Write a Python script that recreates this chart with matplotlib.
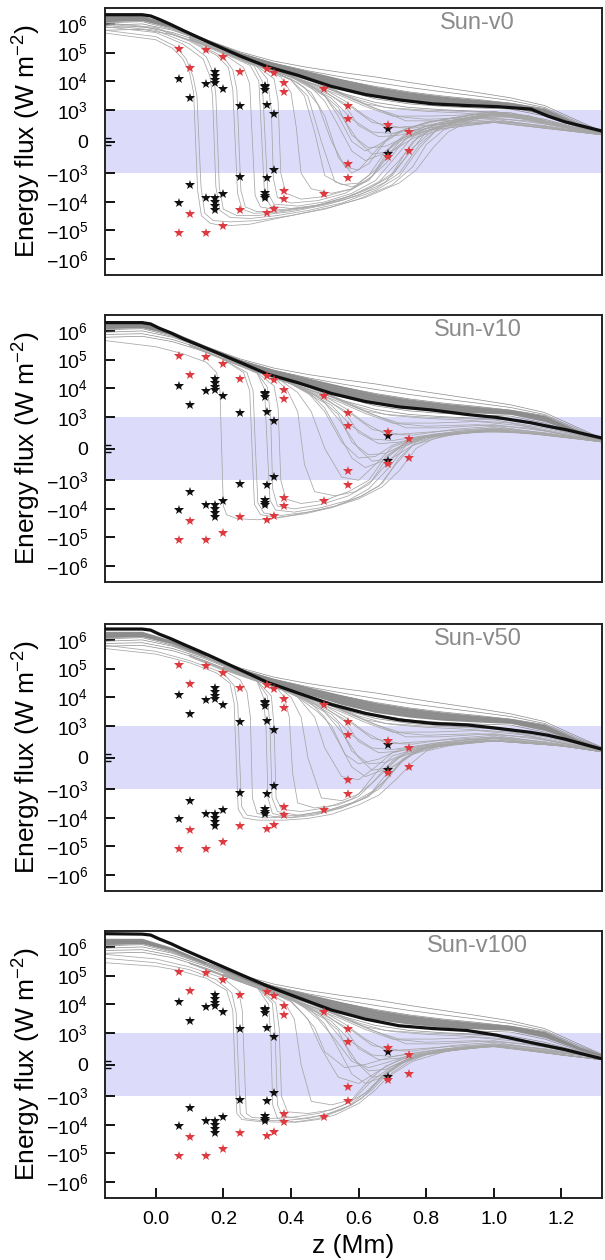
# -*- coding: utf-8 -*-
"""
Energy flux vs height for four solar models (Sun-v0 ... Sun-v100),
symlog y axis, gray individual runs, black mean, star markers for reference points.
"""
import matplotlib.pyplot as plt

plt.rcParams['font.family'] = ['Liberation Sans', 'DejaVu Sans']
plt.rcParams['mathtext.fontset'] = 'custom'
plt.rcParams['mathtext.rm'] = 'Liberation Sans'
plt.rcParams['mathtext.it'] = 'Liberation Sans:italic'
plt.rcParams['axes.unicode_minus'] = True

# ---------------------------------------------------------------- data
panel_names = ['Sun-v0', 'Sun-v10', 'Sun-v50', 'Sun-v100']

# thick black (mean) curve of each panel
mean_z = [-0.15, -0.04, -0.015, 0.01, 0.045, 0.08, 0.16, 0.25, 0.33, 0.42,
          0.52, 0.62, 0.72, 0.82, 0.92, 1.01, 1.11, 1.16, 1.21, 1.32]
v0_mean = [2.1e6, 2.1e6, 1.9e6, 1.45e6, 9.5e5, 6e5, 2.2e5, 7.5e4, 3.2e4, 1.6e4,
           6.5e3, 3.4e3, 2.2e3, 1.6e3, 1.4e3, 1.28e3, 1.05e3, 800, 620, 330]
v10_mean = [1.95e6, 1.95e6, 1.75e6, 1.25e6, 8.5e5, 5.4e5, 2.2e5, 7.9e4, 3.1e4, 1.55e4,
            6.5e3, 3.4e3, 2.2e3, 1.7e3, 1.2e3, 975, 810, 700, 600, 330]
v50_mean = [2.4e6, 2.4e6, 2.2e6, 1.6e6, 1.1e6, 7.2e5, 2.8e5, 9e4, 3.3e4, 1.4e4,
            5.5e3, 2.7e3, 1.6e3, 1.2e3, 1.07e3, 920, 790, 700, 580, 260]
v100_mean = [2.9e6, 2.8e6, 2.6e6, 1.9e6, 1.3e6, 8.3e5, 3.2e5, 1.1e5, 4.3e4, 1.7e4,
             6.2e3, 3e3, 1.75e3, 1.4e3, 1.2e3, 920, 690, 580, 470, 180]

# runs that stay positive (dense bundle around the mean), same in every panel
bundle_z = [-0.15, -0.04, 0.05, 0.15, 0.25, 0.35, 0.45, 0.55, 0.65, 0.75, 0.85,
            0.95, 1.05, 1.15, 1.25, 1.32]
bundle_top = [2e6, 2e6, 9.5e5, 3e5, 1e5, 4.5e4, 2.3e4, 1.2e4, 6.5e3, 4.2e3, 3e3,
              2.3e3, 1.8e3, 1.1e3, 560, 300]
bundle_bottom = [1.2e6, 1.3e6, 7.5e5, 2.5e5, 7.5e4, 2.8e4, 1.25e4, 5.5e3, 2.9e3,
                 2e3, 1.55e3, 1.35e3, 1.2e3, 850, 480, 260]
bundle_runs = [
    [1.7e6, 1.75e6, 8.5e5, 2.8e5, 1.05e5, 5e4, 3e4, 2e4, 1.4e4, 9e3, 6e3, 4e3, 2.6e3, 1.4e3, 650, 320],
    [1.5e6, 1.6e6, 8e5, 2.7e5, 9.5e4, 4.2e4, 2.3e4, 1.4e4, 9e3, 6e3, 4.2e3, 3e3, 2.1e3, 1.2e3, 600, 300],
    [1.4e6, 1.5e6, 7.5e5, 2.6e5, 9e4, 3.8e4, 1.9e4, 1.1e4, 6.5e3, 4.2e3, 3e3, 2.3e3, 1.7e3, 1.1e3, 560, 280],
    [1.25e6, 1.35e6, 7e5, 2.5e5, 8.5e4, 3.4e4, 1.6e4, 8.5e3, 5e3, 3.3e3, 2.4e3, 1.9e3, 1.5e3, 1e3, 530, 270],
    [1.1e6, 1.2e6, 6.5e5, 2.4e5, 8e4, 3.1e4, 1.45e4, 7e3, 4e3, 2.7e3, 2e3, 1.7e3, 1.4e3, 950, 500, 260],
    [9e5, 1e6, 6e5, 2.3e5, 7.5e4, 2.9e4, 1.3e4, 6e3, 3.2e3, 2.2e3, 1.7e3, 1.5e3, 1.3e3, 900, 480, 250],
    [7.5e5, 8e5, 5e5, 2.1e5, 7e4, 2.6e4, 1.1e4, 5e3, 2.4e3, 1.6e3, 1.3e3, 1.15e3, 1.05e3, 800, 450, 240],
    [6e5, 6.5e5, 4.2e5, 1.8e5, 6e4, 2.2e4, 9e3, 3.8e3, 1.8e3, 1.2e3, 1e3, 950, 900, 700, 420, 230],
]

# runs that leave the bundle late and wander inside the shaded band (all panels)
fan_runs = [
    [(0.2, 1e5), (0.35, 2.5e4), (0.45, 8e3), (0.52, 3e3), (0.58, 1.2e3), (0.64, 600), (0.72, 450), (0.85, 550), (1.0, 650), (1.15, 500), (1.32, 220)],
    [(0.2, 1e5), (0.35, 2.6e4), (0.45, 9e3), (0.55, 3e3), (0.62, 1.3e3), (0.7, 800), (0.8, 700), (0.95, 750), (1.1, 650), (1.32, 230)],
    [(0.2, 1.05e5), (0.35, 2.7e4), (0.48, 7e3), (0.56, 2e3), (0.62, 800), (0.68, 450), (0.76, 420), (0.88, 600), (1.0, 700), (1.32, 220)],
    [(0.2, 1.05e5), (0.4, 1.6e4), (0.5, 4.5e3), (0.56, 1.4e3), (0.6, 500), (0.66, 150), (0.72, 200), (0.82, 450), (1.0, 650), (1.32, 220)],
    [(0.2, 1e5), (0.4, 1.5e4), (0.48, 5e3), (0.54, 1.2e3), (0.58, 200), (0.63, -200), (0.68, -150), (0.74, 150), (0.84, 450), (1.0, 620), (1.32, 210)],
    [(0.2, 1.1e5), (0.45, 1.2e4), (0.55, 3.5e3), (0.62, 1.6e3), (0.7, 1.1e3), (0.8, 950), (0.9, 900), (1.05, 800), (1.2, 450), (1.32, 230)],
    [(0.2, 1.1e5), (0.45, 1.1e4), (0.56, 3e3), (0.64, 1.2e3), (0.72, 800), (0.82, 800), (0.95, 850), (1.1, 700), (1.32, 240)],
    [(0.2, 1.1e5), (0.5, 7e3), (0.6, 2.2e3), (0.68, 1.2e3), (0.78, 1e3), (0.9, 950), (1.0, 900), (1.15, 650), (1.32, 250)],
    [(0.2, 1e5), (0.38, 2e4), (0.46, 6e3), (0.5, 2e3), (0.54, 500), (0.58, -300), (0.62, -600), (0.67, -400), (0.72, 0), (0.8, 350), (1.0, 600), (1.32, 210)],
    [(0.2, 1e5), (0.4, 1.4e4), (0.5, 3e3), (0.55, 800), (0.6, 0), (0.64, -400), (0.7, -300), (0.76, 100), (0.86, 420), (1.0, 600), (1.32, 210)],
    [(0.2, 1.05e5), (0.42, 1.2e4), (0.52, 2.5e3), (0.58, 700), (0.64, 300), (0.7, 250), (0.78, 380), (0.9, 550), (1.05, 620), (1.32, 220)],
    [(0.2, 1.1e5), (0.48, 9e3), (0.58, 2.5e3), (0.66, 1e3), (0.74, 650), (0.84, 650), (1.0, 750), (1.15, 550), (1.32, 230)],
]

# runs that dip below zero, (z, flux) points per run
v0_dips = [
    [(-0.15, 4.8e5), (0.0, 2.8e5), (0.05, 1.4e5), (0.08, 6e4), (0.1, 2e4), (0.112, 4e3), (0.118, 0), (0.124, -4e3), (0.135, -3e4), (0.16, -5.5e4), (0.2, -7e4), (0.28, -6e4), (0.35, -4e4), (0.42, -2.7e4), (0.52, -1.5e4), (0.62, -7e3), (0.72, -2.2e3), (0.77, -900), (0.82, -200), (0.865, 300), (0.92, 600), (1.0, 850), (1.1, 800), (1.2, 500), (1.32, 220)],
    [(-0.15, 6e5), (0.0, 3.6e5), (0.06, 1.6e5), (0.09, 6e4), (0.11, 1.5e4), (0.122, 3e3), (0.128, 0), (0.134, -3e3), (0.145, -2.5e4), (0.17, -4.5e4), (0.22, -5e4), (0.3, -4.5e4), (0.4, -3e4), (0.5, -1.8e4), (0.6, -8e3), (0.7, -2.5e3), (0.76, -800), (0.8, -100), (0.85, 350), (0.92, 650), (1.0, 850), (1.1, 780), (1.2, 480), (1.32, 220)],
    [(-0.15, 8e5), (0.0, 5e5), (0.08, 2e5), (0.14, 6e4), (0.16, 1.5e4), (0.168, 3e3), (0.173, 0), (0.178, -3e3), (0.19, -2e4), (0.22, -3.5e4), (0.28, -3.8e4), (0.36, -3e4), (0.45, -2e4), (0.55, -1.1e4), (0.65, -4e3), (0.72, -1.3e3), (0.78, -200), (0.83, 350), (0.9, 650), (1.0, 880), (1.1, 800), (1.2, 480), (1.32, 230)],
    [(-0.15, 9e5), (0.0, 6e5), (0.1, 2e5), (0.15, 7e4), (0.17, 2e4), (0.178, 3e3), (0.183, 0), (0.188, -3e3), (0.2, -1.8e4), (0.24, -3e4), (0.3, -3e4), (0.4, -2.2e4), (0.5, -1.3e4), (0.6, -6e3), (0.68, -2e3), (0.74, -500), (0.8, 300), (0.88, 650), (1.0, 900), (1.1, 820), (1.2, 500), (1.32, 240)],
    [(-0.15, 1e6), (0.0, 7e5), (0.1, 2.5e5), (0.18, 8e4), (0.215, 3e4), (0.228, 5e3), (0.235, 0), (0.242, -5e3), (0.255, -1.8e4), (0.29, -2.5e4), (0.36, -2.3e4), (0.45, -1.6e4), (0.55, -9e3), (0.65, -3.5e3), (0.72, -1e3), (0.78, -100), (0.84, 450), (0.95, 750), (1.1, 800), (1.2, 500), (1.32, 240)],
    [(-0.15, 1.1e6), (0.0, 7.5e5), (0.1, 2.7e5), (0.2, 7e4), (0.228, 2.5e4), (0.24, 5e3), (0.246, 0), (0.252, -4e3), (0.265, -1.5e4), (0.3, -2.2e4), (0.38, -2e4), (0.48, -1.3e4), (0.58, -6e3), (0.66, -2e3), (0.72, -600), (0.78, 200), (0.86, 550), (1.0, 850), (1.1, 800), (1.2, 500), (1.32, 240)],
    [(0.1, 2.8e5), (0.2, 9e4), (0.26, 3e4), (0.278, 8e3), (0.286, 0), (0.294, -6e3), (0.31, -1.5e4), (0.36, -1.9e4), (0.44, -1.6e4), (0.54, -9e3), (0.62, -4e3), (0.7, -1.2e3), (0.76, -200), (0.82, 350), (0.9, 650), (1.05, 900), (1.2, 520), (1.32, 240)],
    [(0.1, 3e5), (0.2, 9.5e4), (0.28, 3.5e4), (0.305, 1e4), (0.314, 0), (0.322, -6e3), (0.34, -1.4e4), (0.4, -1.7e4), (0.48, -1.3e4), (0.56, -7e3), (0.64, -3e3), (0.7, -1e3), (0.76, 0), (0.82, 400), (0.95, 750), (1.1, 820), (1.2, 500), (1.32, 240)],
    [(0.1, 3e5), (0.2, 1e5), (0.29, 3.5e4), (0.315, 1e4), (0.324, 0), (0.332, -5e3), (0.35, -1.2e4), (0.42, -1.4e4), (0.5, -1e4), (0.58, -5e3), (0.65, -1.8e3), (0.7, -600), (0.76, 150), (0.85, 550), (1.0, 850), (1.2, 500), (1.32, 240)],
    [(0.1, 3.2e5), (0.2, 1e5), (0.3, 3.2e4), (0.33, 1.2e4), (0.342, 1e3), (0.348, -1.5e3), (0.36, -7e3), (0.4, -1.1e4), (0.48, -9e3), (0.56, -5e3), (0.62, -2e3), (0.68, -700), (0.74, 100), (0.82, 500), (1.0, 880), (1.2, 520), (1.32, 240)],
    [(0.1, 3.3e5), (0.2, 1.05e5), (0.3, 3.4e4), (0.35, 1.2e4), (0.362, 2e3), (0.37, -1e3), (0.385, -5e3), (0.43, -8e3), (0.5, -6.5e3), (0.58, -3.5e3), (0.64, -1.3e3), (0.7, -300), (0.76, 250), (0.85, 600), (1.0, 900), (1.2, 520), (1.32, 240)],
    [(0.1, 3.5e5), (0.2, 1.1e5), (0.3, 3.5e4), (0.37, 1.4e4), (0.4, 4e3), (0.415, 500), (0.43, -1e3), (0.46, -3.5e3), (0.52, -5e3), (0.58, -3.5e3), (0.63, -1.2e3), (0.68, -300), (0.74, 250), (0.82, 550), (1.0, 900), (1.2, 520), (1.32, 240)],
    [(0.1, 3.6e5), (0.2, 1.15e5), (0.3, 3.6e4), (0.4, 1.1e4), (0.44, 3e3), (0.47, 300), (0.5, -1.2e3), (0.55, -2.5e3), (0.6, -2.2e3), (0.65, -900), (0.7, -100), (0.76, 350), (0.85, 620), (1.0, 900), (1.2, 520), (1.32, 240)],
    [(0.15, 2.4e5), (0.3, 3.7e4), (0.4, 1.2e4), (0.46, 4e3), (0.5, 800), (0.54, -500), (0.58, -1e3), (0.63, -700), (0.68, 0), (0.74, 400), (0.85, 700), (1.0, 950), (1.2, 540), (1.32, 240)],
    [(0.15, 2.4e5), (0.3, 3.8e4), (0.45, 8e3), (0.5, 3e3), (0.54, 800), (0.58, 0), (0.62, -300), (0.66, -100), (0.72, 300), (0.8, 600), (1.0, 950), (1.2, 540), (1.32, 240)],
    [(0.15, 2.4e5), (0.3, 3.7e4), (0.42, 9e3), (0.44, 6e3), (0.48, 1.5e3), (0.52, 0), (0.56, -800), (0.6, -900), (0.65, -300), (0.7, 250), (0.8, 600), (1.0, 920), (1.2, 530), (1.32, 240)],
    [(0.15, 2.5e5), (0.3, 3.8e4), (0.4, 1.1e4), (0.45, 3e3), (0.49, 0), (0.53, -2e3), (0.58, -3e3), (0.63, -1.8e3), (0.68, -500), (0.73, 100), (0.82, 500), (1.0, 880), (1.2, 520), (1.32, 240)],
]

v10_dips = [
    [(-0.15, 4.6e5), (0.0, 2.8e5), (0.08, 1.6e5), (0.15, 8e4), (0.18, 3.5e4), (0.19, 8e3), (0.195, 0), (0.2, -8e3), (0.21, -1.6e4), (0.24, -2.2e4), (0.3, -2.4e4), (0.38, -1.9e4), (0.45, -1.3e4), (0.52, -9e3), (0.6, -4.5e3), (0.67, -1.7e3), (0.72, -700), (0.77, 0), (0.82, 300), (0.9, 480), (1.0, 550), (1.1, 500), (1.2, 380), (1.32, 200)],
    [(0.1, 3e5), (0.2, 1e5), (0.26, 3.5e4), (0.278, 8e3), (0.285, 0), (0.292, -7e3), (0.31, -1.6e4), (0.36, -2e4), (0.44, -1.5e4), (0.52, -9e3), (0.6, -4e3), (0.66, -1.6e3), (0.71, -500), (0.76, 100), (0.82, 350), (0.95, 520), (1.1, 500), (1.2, 380), (1.32, 210)],
    [(0.1, 3.1e5), (0.2, 1e5), (0.27, 3.5e4), (0.288, 8e3), (0.295, 0), (0.302, -6e3), (0.32, -1.4e4), (0.37, -1.7e4), (0.45, -1.3e4), (0.53, -8e3), (0.61, -3.5e3), (0.67, -1.3e3), (0.72, -300), (0.77, 200), (0.84, 420), (1.0, 540), (1.2, 390), (1.32, 210)],
    [(0.1, 3.2e5), (0.2, 1.05e5), (0.3, 3.3e4), (0.322, 9e3), (0.33, 0), (0.338, -5e3), (0.355, -1.1e4), (0.41, -1.3e4), (0.49, -9e3), (0.57, -5e3), (0.63, -2e3), (0.69, -600), (0.74, 100), (0.8, 380), (1.0, 560), (1.2, 400), (1.32, 220)],
    [(0.1, 3.3e5), (0.2, 1.05e5), (0.3, 3.4e4), (0.33, 1.1e4), (0.34, 1e3), (0.346, -2e3), (0.36, -8e3), (0.41, -1e4), (0.49, -7e3), (0.57, -3.5e3), (0.63, -1.4e3), (0.69, -400), (0.74, 150), (0.8, 400), (1.0, 560), (1.2, 400), (1.32, 220)],
    [(0.1, 3.4e5), (0.2, 1.1e5), (0.3, 3.5e4), (0.35, 1.2e4), (0.362, 2e3), (0.37, -1e3), (0.385, -4.5e3), (0.43, -6.5e3), (0.5, -5e3), (0.57, -2.5e3), (0.63, -1e3), (0.68, -250), (0.74, 200), (0.82, 420), (1.0, 560), (1.2, 400), (1.32, 220)],
    [(0.15, 2.3e5), (0.25, 7.5e4), (0.35, 2.5e4), (0.39, 8e3), (0.42, 1.5e3), (0.44, -500), (0.47, -2.5e3), (0.53, -3.5e3), (0.59, -2.5e3), (0.64, -1e3), (0.69, -200), (0.75, 250), (0.85, 450), (1.0, 570), (1.2, 400), (1.32, 220)],
    [(0.15, 2.4e5), (0.25, 8e4), (0.35, 2.7e4), (0.42, 7e3), (0.46, 1.5e3), (0.5, 0), (0.55, -900), (0.6, -1e3), (0.65, -500), (0.7, 50), (0.78, 350), (0.9, 500), (1.0, 580), (1.2, 400), (1.32, 220)],
    [(0.15, 2.4e5), (0.25, 8e4), (0.35, 2.7e4), (0.45, 7e3), (0.5, 1.5e3), (0.55, 200), (0.6, -300), (0.65, -250), (0.7, 100), (0.78, 380), (1.0, 590), (1.2, 400), (1.32, 220)],
]

v50_dips = [
    [(-0.15, 5e5), (0.0, 3.2e5), (0.1, 1.6e5), (0.18, 7e4), (0.22, 3e4), (0.232, 6e3), (0.238, 0), (0.244, -5e3), (0.26, -1e4), (0.3, -1.2e4), (0.38, -1.2e4), (0.45, -1.05e4), (0.52, -7.5e3), (0.6, -3.5e3), (0.66, -1.6e3), (0.71, -700), (0.76, -150), (0.8, 200), (0.9, 450), (1.0, 520), (1.1, 480), (1.2, 370), (1.32, 180)],
    [(-0.15, 6.5e5), (0.0, 4e5), (0.1, 1.9e5), (0.2, 7e4), (0.232, 2.5e4), (0.243, 5e3), (0.248, 0), (0.254, -4e3), (0.27, -8e3), (0.32, -1e4), (0.4, -9.5e3), (0.48, -7e3), (0.56, -4e3), (0.63, -1.8e3), (0.69, -600), (0.74, 0), (0.8, 300), (0.9, 480), (1.0, 530), (1.2, 370), (1.32, 180)],
    [(0.1, 2.6e5), (0.2, 8.5e4), (0.25, 4e4), (0.27, 1.5e4), (0.28, 2e3), (0.286, -2e3), (0.3, -7e3), (0.35, -9e3), (0.43, -8e3), (0.52, -5e3), (0.6, -2.5e3), (0.66, -1e3), (0.72, -200), (0.78, 250), (0.9, 460), (1.0, 520), (1.2, 370), (1.32, 180)],
    [(0.1, 2.8e5), (0.2, 9e4), (0.3, 3.5e4), (0.318, 1e4), (0.326, 1e3), (0.332, -2e3), (0.345, -7e3), (0.4, -1e4), (0.47, -8e3), (0.55, -4.5e3), (0.62, -2e3), (0.68, -700), (0.73, -50), (0.8, 300), (1.0, 520), (1.2, 370), (1.32, 180)],
    [(0.1, 2.9e5), (0.2, 9.5e4), (0.3, 3.6e4), (0.33, 1.1e4), (0.338, 1e3), (0.344, -2e3), (0.36, -6e3), (0.42, -8e3), (0.5, -6e3), (0.58, -3e3), (0.64, -1.2e3), (0.7, -300), (0.76, 150), (0.85, 380), (1.0, 520), (1.2, 370), (1.32, 180)],
    [(0.1, 3e5), (0.2, 1e5), (0.3, 3.7e4), (0.342, 1.1e4), (0.35, 1e3), (0.356, -2e3), (0.372, -5e3), (0.43, -6e3), (0.5, -4.5e3), (0.58, -2.2e3), (0.64, -800), (0.7, -100), (0.76, 250), (0.85, 420), (1.0, 530), (1.2, 370), (1.32, 180)],
    [(0.15, 2.5e5), (0.25, 8e4), (0.35, 2.8e4), (0.38, 1e4), (0.395, 2e3), (0.405, -500), (0.42, -3e3), (0.47, -4.5e3), (0.54, -3.5e3), (0.6, -1.8e3), (0.66, -600), (0.72, 0), (0.8, 320), (1.0, 530), (1.2, 370), (1.32, 180)],
    [(0.15, 2.6e5), (0.25, 8.5e4), (0.35, 3e4), (0.4, 1e4), (0.43, 2e3), (0.45, 0), (0.49, -2e3), (0.55, -2.5e3), (0.6, -1.5e3), (0.65, -500), (0.7, 50), (0.78, 300), (1.0, 540), (1.2, 380), (1.32, 180)],
    [(0.15, 2.6e5), (0.25, 8.5e4), (0.35, 3e4), (0.42, 1e4), (0.47, 2e3), (0.5, 300), (0.55, -600), (0.6, -700), (0.65, -300), (0.7, 150), (0.8, 380), (1.0, 550), (1.2, 380), (1.32, 180)],
    [(0.15, 2.6e5), (0.3, 4.5e4), (0.42, 1e4), (0.48, 3e3), (0.52, 1e3), (0.56, 100), (0.6, -200), (0.66, -50), (0.72, 250), (0.85, 450), (1.0, 550), (1.2, 380), (1.32, 180)],
]

v100_dips = [
    [(-0.15, 2.8e5), (0.0, 2.1e5), (0.07, 1.5e5), (0.15, 8e4), (0.21, 3e4), (0.228, 6e3), (0.234, 0), (0.24, -4e3), (0.255, -6.5e3), (0.3, -7.5e3), (0.36, -8e3), (0.42, -8e3), (0.48, -6.5e3), (0.53, -4.5e3), (0.6, -1.8e3), (0.65, -800), (0.7, -250), (0.75, 100), (0.8, 300), (0.9, 480), (1.0, 560), (1.1, 450), (1.2, 300), (1.32, 150)],
    [(-0.15, 4e5), (0.0, 2.8e5), (0.1, 1.6e5), (0.18, 7e4), (0.225, 2.5e4), (0.238, 5e3), (0.244, 0), (0.25, -4e3), (0.265, -6e3), (0.31, -7e3), (0.38, -7e3), (0.45, -6e3), (0.52, -3.8e3), (0.58, -2e3), (0.64, -800), (0.69, -250), (0.74, 100), (0.8, 320), (0.9, 500), (1.0, 560), (1.2, 300), (1.32, 150)],
    [(-0.15, 5.5e5), (0.0, 3.8e5), (0.1, 2e5), (0.2, 8e4), (0.245, 3e4), (0.256, 6e3), (0.262, 0), (0.268, -4e3), (0.285, -5.5e3), (0.33, -6e3), (0.4, -5.5e3), (0.48, -4e3), (0.55, -2.2e3), (0.62, -900), (0.68, -250), (0.73, 100), (0.8, 350), (1.0, 580), (1.2, 300), (1.32, 150)],
    [(0.1, 2.6e5), (0.2, 9.5e4), (0.3, 3.8e4), (0.333, 1e4), (0.34, 1e3), (0.346, -2e3), (0.36, -6e3), (0.41, -8e3), (0.48, -6e3), (0.55, -3e3), (0.61, -1.2e3), (0.67, -400), (0.72, 0), (0.78, 300), (0.9, 500), (1.0, 580), (1.2, 300), (1.32, 150)],
    [(0.1, 2.7e5), (0.2, 1e5), (0.3, 3.9e4), (0.345, 1.1e4), (0.353, 1e3), (0.36, -2e3), (0.375, -5e3), (0.43, -6e3), (0.5, -4.5e3), (0.57, -2.2e3), (0.63, -800), (0.69, -200), (0.74, 150), (0.8, 340), (1.0, 590), (1.2, 310), (1.32, 150)],
    [(0.1, 2.8e5), (0.2, 1e5), (0.3, 4e4), (0.355, 1.1e4), (0.365, 1.5e3), (0.372, -1e3), (0.39, -3.5e3), (0.45, -4e3), (0.52, -3e3), (0.58, -1.5e3), (0.64, -500), (0.7, -50), (0.76, 220), (0.85, 420), (1.0, 600), (1.2, 310), (1.32, 150)],
    [(0.15, 2.5e5), (0.3, 4e4), (0.38, 1.2e4), (0.41, 3e3), (0.43, 0), (0.46, -1.5e3), (0.52, -2e3), (0.58, -1.3e3), (0.63, -500), (0.68, -50), (0.75, 250), (0.85, 430), (1.0, 600), (1.2, 310), (1.32, 150)],
    [(0.15, 2.6e5), (0.3, 4.2e4), (0.4, 1.3e4), (0.45, 3e3), (0.49, 500), (0.54, -400), (0.6, -600), (0.66, -200), (0.72, 150), (0.82, 400), (1.0, 600), (1.2, 310), (1.32, 150)],
    [(0.15, 2.6e5), (0.3, 4.3e4), (0.42, 1.2e4), (0.48, 3e3), (0.53, 800), (0.58, 100), (0.63, -100), (0.68, 50), (0.75, 280), (0.85, 450), (1.0, 610), (1.2, 310), (1.32, 150)],
    [(0.15, 2.7e5), (0.3, 4.4e4), (0.4, 1.2e4), (0.44, 4e3), (0.47, 1.5e3), (0.5, 400), (0.56, -100), (0.62, 0), (0.7, 250), (0.8, 420), (1.0, 600), (1.2, 310), (1.32, 150)],
]

panel_means = [v0_mean, v10_mean, v50_mean, v100_mean]
panel_dips = [v0_dips, v10_dips, v50_dips, v100_dips]

# star markers (same in every panel)
red_z = [0.070, 0.100, 0.149, 0.199, 0.249, 0.328, 0.350, 0.379, 0.379, 0.499, 0.569, 0.569, 0.687, 0.748,
         0.070, 0.100, 0.149, 0.199, 0.249, 0.328, 0.350, 0.379, 0.379, 0.499, 0.569, 0.569, 0.687, 0.748]
red_f = [1.3e5, 2.9e4, 1.2e5, 7e4, 2.1e4, 2.7e4, 1.95e4, 8.7e3, 4.2e3, 5.1e3, 1.4e3, 710, 520, 310,
         -1.2e5, -2.7e4, -1.2e5, -7e4, -2e4, -2.5e4, -1.8e4, -8e3, -4.3e3, -5.1e3, -1.45e3, -700, -500, -310]
black_z = [0.070, 0.100, 0.149, 0.176, 0.176, 0.176, 0.176, 0.199, 0.249, 0.323, 0.323, 0.323, 0.328, 0.350, 0.687,
           0.070, 0.100, 0.149, 0.176, 0.176, 0.176, 0.176, 0.199, 0.249, 0.323, 0.323, 0.323, 0.328, 0.350, 0.687]
black_f = [1.2e4, 2.6e3, 8e3, 2.1e4, 1.5e4, 1.1e4, 8.3e3, 5.1e3, 1.4e3, 7e3, 6e3, 4.9e3, 1.45e3, 850, 400,
           -1.1e4, -2.5e3, -7.6e3, -7.6e3, -1e4, -1.4e4, -1.9e4, -5.1e3, -1.4e3, -4.9e3, -6e3, -7.3e3, -1.45e3, -900, -390]

ytick_vals = [1e6, 1e5, 1e4, 1e3, 0, -1e3, -1e4, -1e5, -1e6]
ytick_labels = [r'$10^6$', r'$10^5$', r'$10^4$', r'$10^3$', '0',
                r'$-10^3$', r'$-10^4$', r'$-10^5$', r'$-10^6$']
xtick_vals = [0.0, 0.2, 0.4, 0.6, 0.8, 1.0, 1.2]

# ---------------------------------------------------------------- figure
W, H = 605, 1260
fig = plt.figure(figsize=(W / 100, H / 100), dpi=100)

panel_tops = [8, 315, 624, 931]
panel_h = 267
left_px, right_px = 105, 602

run_gray = '#a6a6a6'
for i, name in enumerate(panel_names):
    top = panel_tops[i]
    ax = fig.add_axes([left_px / W, 1 - (top + panel_h) / H,
                       (right_px - left_px) / W, panel_h / H])
    ax.set_yscale('symlog', linthresh=1e3, linscale=1)
    ax.set_xlim(-0.15, 1.32)
    ax.set_ylim(-3.6e6, 3.6e6)

    ax.axhspan(-1e3, 1e3, color='#dcdcfa', lw=0, zorder=0)

    ax.fill_between(bundle_z, bundle_bottom, bundle_top, color='#909090', lw=0, zorder=1)
    for run in bundle_runs:
        ax.plot(bundle_z, run, color='#8a8a8a', lw=0.5, zorder=2)
    for run in fan_runs + panel_dips[i]:
        zz = [p[0] for p in run]
        ff = [p[1] for p in run]
        ax.plot(zz, ff, color=run_gray, lw=0.55, zorder=2)

    ax.plot(mean_z, panel_means[i], color='#111111', lw=2.3, zorder=3)

    ax.plot(black_z, black_f, ls='none', marker='*', ms=7, color='#111111', mew=0, zorder=4)
    ax.plot(red_z, red_f, ls='none', marker='*', ms=7, color='#dd3b40', mew=0, zorder=5)

    ax.text(0.75, 0.985, name, transform=ax.transAxes, ha='center', va='top',
            fontsize=17, color='#8a8a8a')

    ax.set_yticks(ytick_vals)
    ax.set_yticklabels(ytick_labels)
    ax.set_yticks([-100, 100], minor=True)
    ax.tick_params(axis='y', which='major', direction='in', length=7, width=1.3,
                   labelsize=14, pad=12, right=False)
    ax.tick_params(axis='y', which='minor', direction='in', length=4, width=1.0)
    ax.set_ylabel(r'Energy flux (W m$^{-2}$)', fontsize=19)
    ax.yaxis.set_label_coords(-0.125, 0.5)

    ax.set_xticks(xtick_vals)
    ax.xaxis.set_minor_locator(plt.NullLocator())
    if i < 3:
        ax.tick_params(axis='x', which='both', bottom=False, labelbottom=False)
    else:
        ax.set_xticklabels(['%.1f' % v for v in xtick_vals])
        ax.tick_params(axis='x', direction='in', length=7, width=1.3,
                       labelsize=14, pad=9, top=False)
        ax.set_xlabel('z (Mm)', fontsize=19, labelpad=5)

    for sp in ax.spines.values():
        sp.set_linewidth(1.4)
        sp.set_color('#222222')

fig.savefig('out.png', dpi=100)
